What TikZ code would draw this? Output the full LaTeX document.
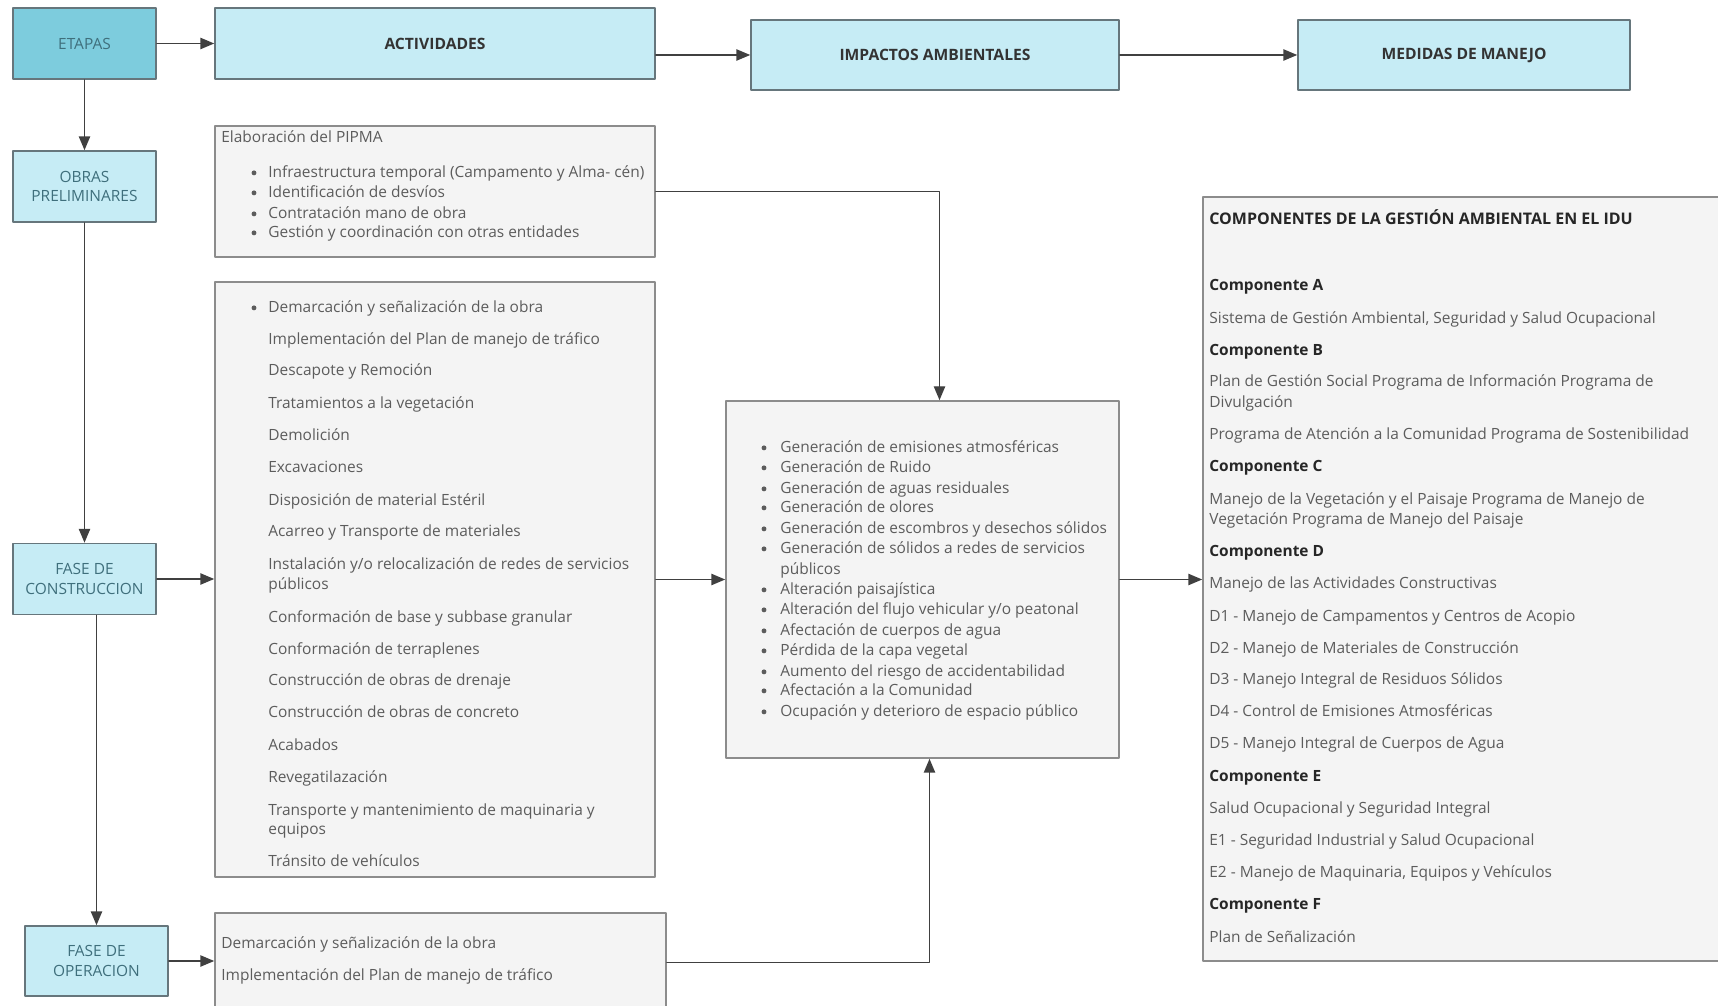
\documentclass[tikz,border=0pt]{standalone}
\usepackage{fontspec}
\setmainfont{Open Sans}
\usetikzlibrary{arrows,fit,calc}
\definecolor{cabecera}{HTML}{C6ECF5}
\definecolor{etapa}{HTML}{7DCCDD}
\definecolor{caja}{HTML}{F4F4F4}
\definecolor{borde}{HTML}{66767C}
\definecolor{texto}{HTML}{5C5C5C}
\definecolor{textoetapa}{HTML}{3F6F7C}

\begin{document}
\begin{tikzpicture}[line cap=round,line join=round,>=triangle 45,x=0.02cm,y=-0.02cm,
  cab/.style={draw=borde,line width=1pt,fill=cabecera,inner sep=0pt,minimum height=1.41cm,font=\bfseries\fontsize{8.9}{10}\selectfont,text=black!80},
  fase/.style={draw=borde,line width=1pt,fill=cabecera,inner sep=0pt,minimum width=2.86cm,minimum height=1.42cm,align=center,font=\fontsize{8.8}{11.2}\selectfont,text=textoetapa},
  lista/.style={draw=black!45,line width=1pt,fill=caja,inner sep=0pt},
  txt/.style={anchor=west,inner sep=0pt,yshift=-1.3pt,text height=6pt,text depth=1.8pt,font=\fontsize{8.8}{11.2}\selectfont,text=texto},
  tit/.style={txt,font=\bfseries\fontsize{8.8}{11.2}\selectfont,text=black!85},
  con/.style={line width=0.8pt,draw=black!75,->}]
\useasboundingbox (0,0) rectangle (1718,1006);
\clip (0,0) rectangle (1718,1006);

\node[fase,fill=etapa] (etapas) at (84.5,43.5) {ETAPAS};
\node[cab,minimum width=8.8cm] (act) at (435,43.5) {ACTIVIDADES};
\node[cab,minimum width=7.36cm] (imp) at (935,55) {IMPACTOS AMBIENTALES};
\node[cab,minimum width=6.64cm] (med) at (1464,55) {MEDIDAS DE MANEJO};
\node[fase] (obras) at (84.5,186.5) {OBRAS\\PRELIMINARES};
\node[fase] (construccion) at (84.5,579) {FASE DE\\CONSTRUCCION};
\node[fase,minimum height=1.40cm] (operacion) at (96.5,961) {FASE DE\\OPERACION};

\node[lista,fit={(215,126) (655,257)}] (lpre) {};
\node[lista,fit={(215,282) (655,877)}] (lcon) {};
\node[lista,fit={(215,913) (666,1012)}] (lope) {};
\node[lista,fit={(726,401) (1119,758)}] (limp) {};
\node[lista,fit={(1203,197) (1730,961)}] (lcomp) {};

\node[txt] (pre0) at (221,137) {Elaboración del PIPMA};
\foreach \y/\t [count=\i] in {172/{Infraestructura temporal (Campamento y Alma- cén)},192/{Identificación de desvíos},213/{Contratación mano de obra},232/{Gestión y coordinación con otras entidades}}{
  \fill[texto] ([yshift=-0.5pt]254,\y) circle (1.4pt);
  \node[txt] (pre\i) at (268,\y) {\t};
}

\fill[texto] ([yshift=-0.5pt]254,307) circle (1.4pt);
\foreach \y/\t [count=\i] in {307/{Demarcación y señalización de la obra},339/{Implementación del Plan de manejo de tráfico},370/{Descapote y Remoción},403/{Tratamientos a la vegetación},435/{Demolición},467/{Excavaciones},500/{Disposición de material Estéril},531/{Acarreo y Transporte de materiales},564/{Instalación y/o relocalización de redes de servicios},584/{públicos},617/{Conformación de base y subbase granular},649/{Conformación de terraplenes},680/{Construcción de obras de drenaje},712/{Construcción de obras de concreto},745/{Acabados},777/{Revegatilazación},810/{Transporte y mantenimiento de maquinaria y},829/{equipos},861/{Tránsito de vehículos}}{
  \node[txt] (con\i) at (268,\y) {\t};
}

\node[txt] (ope1) at (221,943) {Demarcación y señalización de la obra};
\node[txt] (ope2) at (221,975) {Implementación del Plan de manejo de tráfico};

\foreach \y/\t [count=\i] in {447/{Generación de emisiones atmosféricas},467/{Generación de Ruido},488/{Generación de aguas residuales},507/{Generación de olores},528/{Generación de escombros y desechos sólidos},548/{Generación de sólidos a redes de servicios},589/{Alteración paisajística},609/{Alteración del flujo vehicular y/o peatonal},630/{Afectación de cuerpos de agua},650/{Pérdida de la capa vegetal},671/{Aumento del riesgo de accidentabilidad},690/{Afectación a la Comunidad},711/{Ocupación y deterioro de espacio público}}{
  \fill[texto] ([yshift=-0.5pt]764,\y) circle (1.4pt);
  \node[txt] (imp\i) at (780,\y) {\t};
}
\node[txt] (imp6b) at (780,569) {públicos};

\node[tit,font=\bfseries\fontsize{9.1}{11.2}\selectfont] (comp0) at (1209,219) {COMPONENTES DE LA GESTIÓN AMBIENTAL EN EL IDU};
\foreach \y/\t in {285/A,350/B,466/C,551/D,776/E,904/F}{
  \node[tit] (comp\t) at (1209,\y) {Componente \t};
}
\foreach \y/\t [count=\i] in {318/{Sistema de Gestión Ambiental, Seguridad y Salud Ocupacional},381/{Plan de Gestión Social Programa de Información Programa de},402/{Divulgación},434/{Programa de Atención a la Comunidad Programa de Sostenibilidad},499/{Manejo de la Vegetación y el Paisaje Programa de Manejo de},519/{Vegetación Programa de Manejo del Paisaje},583/{Manejo de las Actividades Constructivas},616/{D1 - Manejo de Campamentos y Centros de Acopio},648/{D2 - Manejo de Materiales de Construcción},679/{D3 - Manejo Integral de Residuos Sólidos},711/{D4 - Control de Emisiones Atmosféricas},743/{D5 - Manejo Integral de Cuerpos de Agua},808/{Salud Ocupacional y Seguridad Integral},840/{E1 - Seguridad Industrial y Salud Ocupacional},872/{E2 - Manejo de Maquinaria, Equipos y Vehículos},937/{Plan de Señalización}}{
  \node[txt] (med\i) at (1209,\y) {\t};
}

\draw[con] (etapas) -- (act);
\draw[con] (act.east |- imp.west) -- (imp.west);
\draw[con] (imp) -- (med);
\draw[con] (etapas) -- (obras);
\draw[con] (obras) -- (construccion);
\draw[con] (construccion.south -| operacion.north) -- (operacion.north);
\draw[con] (construccion.east) -- (construccion.east -| lcon.west);
\draw[con] (operacion.east) -- (operacion.east -| lope.west);
\draw[con] (lpre.east) -| ($(limp.north)+(17,0)$);
\draw[con] (lcon.east) -- (lcon.east -| limp.west);
\draw[con] (lope.east) -| ($(limp.south)+(7,0)$);
\draw[con] (limp.east) -- (limp.east -| lcomp.west);
\end{tikzpicture}
\end{document}
